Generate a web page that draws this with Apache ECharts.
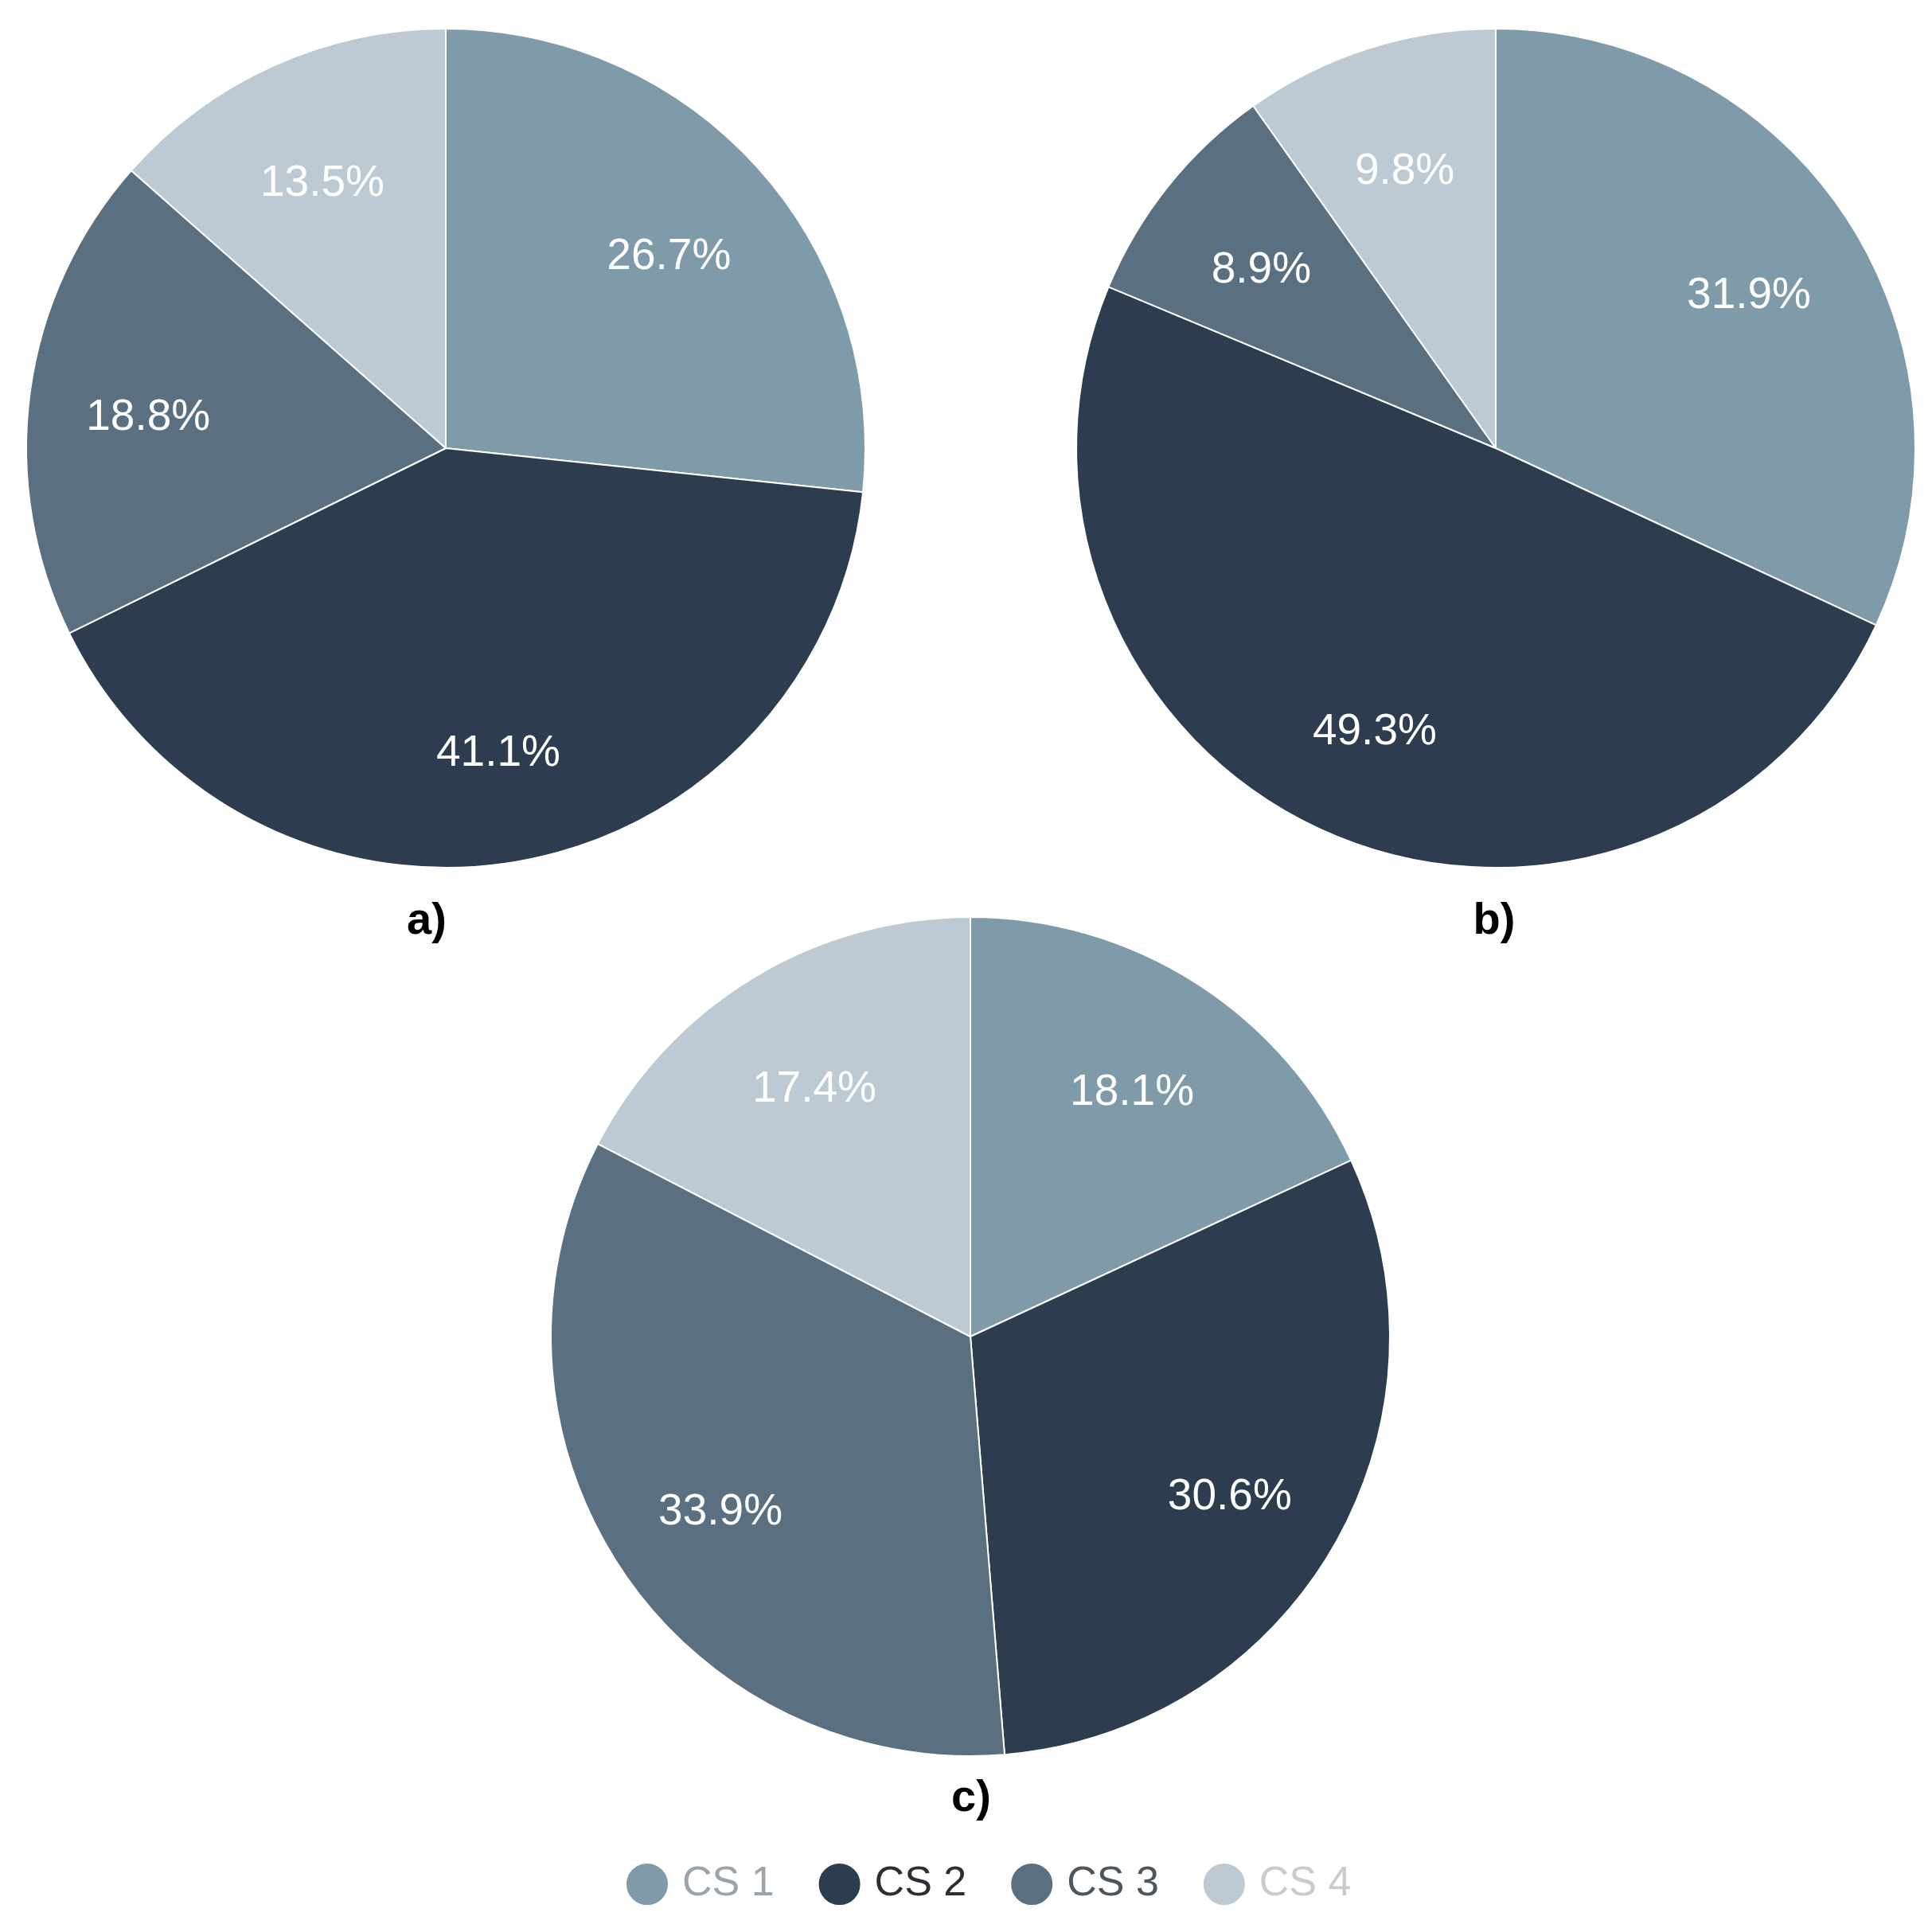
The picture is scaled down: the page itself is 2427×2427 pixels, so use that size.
<!DOCTYPE html>
<html>
<head>
<meta charset="utf-8">
<script src="https://cdn.jsdelivr.net/npm/echarts@6/dist/echarts.min.js"></script>
<style>
html,body{margin:0;padding:0;background:#fff;}
#chart{width:2427px;height:2427px;}
</style>
</head>
<body>
<div id="chart"></div>
<script>
var categories = ['CS 1', 'CS 2', 'CS 3', 'CS 4'];
var valuesA = [26.7, 41.1, 18.8, 13.5];
var valuesB = [31.9, 49.3, 8.9, 9.8];
var valuesC = [18.1, 30.6, 33.9, 17.4];
var panelLabels = ['a)', 'b)', 'c)'];

var colors = ['#7f9aa8', '#2d3c4e', '#5a7080', '#bdc9d3'];
var legendTextColors = ['#9aa4aa', '#2a2f36', '#4e565d', '#c8ccd0'];

var pies = [
  {vals: valuesA, cx: 560, cy: 563},
  {vals: valuesB, cx: 1879, cy: 563},
  {vals: valuesC, cx: 1219, cy: 1679}
];
var R = 527;
var labelShift = 12;

var series = [];
pies.forEach(function (p) {
  series.push({
    type: 'pie',
    center: [p.cx, p.cy],
    radius: [0, R],
    startAngle: 90,
    clockwise: true,
    animation: false,
    silent: true,
    label: {show: false},
    labelLine: {show: false},
    itemStyle: {borderColor: '#ffffff', borderWidth: 2},
    data: categories.map(function (c, i) {
      return {name: c, value: p.vals[i], itemStyle: {color: colors[i]}};
    })
  });
  series.push({
    type: 'pie',
    center: [p.cx, p.cy + labelShift],
    radius: [R * 0.42, R],
    startAngle: 90,
    clockwise: true,
    animation: false,
    silent: true,
    legendHoverLink: false,
    label: {
      show: true,
      position: 'inside',
      formatter: function (d) { return d.value.toFixed(1) + '%'; },
      color: '#ffffff',
      fontFamily: 'Liberation Sans, Arial, sans-serif',
      fontSize: 55
    },
    labelLine: {show: false},
    itemStyle: {color: 'rgba(0,0,0,0)', borderWidth: 0},
    data: categories.map(function (c, i) {
      return {name: c, value: p.vals[i]};
    })
  });
});

var titlePos = [[536, 1158], [1877, 1158], [1220, 2260]];
var graphic = panelLabels.map(function (t, i) {
  return {
    type: 'text',
    x: titlePos[i][0],
    y: titlePos[i][1],
    style: {
      text: t,
      fill: '#000000',
      font: 'bold 56px "Liberation Sans", Arial, sans-serif',
      textAlign: 'center',
      textVerticalAlign: 'middle'
    }
  };
});

var option = {
  backgroundColor: '#ffffff',
  color: colors,
  legend: {
    orient: 'horizontal',
    left: 780,
    top: 2334,
    icon: 'circle',
    itemWidth: 54,
    itemHeight: 54,
    itemGap: 54,
    selectedMode: false,
    textStyle: {
      fontFamily: 'Liberation Sans, Arial, sans-serif',
      fontSize: 52,
      padding: [0, 0, 0, 12]
    },
    data: categories.map(function (c, i) {
      return {name: c, itemStyle: {color: colors[i]}, textStyle: {color: legendTextColors[i]}};
    })
  },
  graphic: graphic,
  series: series
};

var chart = echarts.init(document.getElementById('chart'), null, {renderer: 'canvas'});
chart.setOption(option);
</script>
</body>
</html>
